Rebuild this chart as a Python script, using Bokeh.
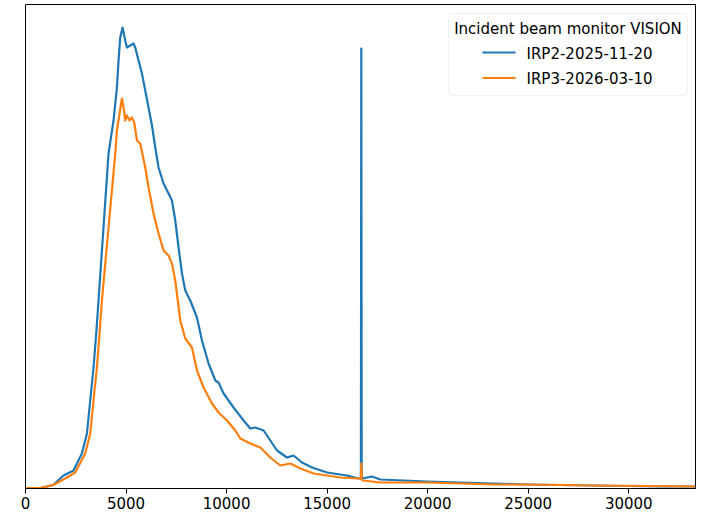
from bokeh.plotting import figure
from bokeh.models import Range1d, FixedTicker, BoxAnnotation, Label
from bokeh.embed import file_html
from bokeh.resources import INLINE

# ---- data (y in arbitrary monitor units) ----
irp2_x = [0, 731, 1378, 1891, 2388, 2806, 3055, 3219, 3383, 3517, 3632, 4129, 4378,
          4547, 4627, 4711, 4826, 4960, 5045, 5209, 5373, 5458, 5622, 5791, 5955,
          6119, 6289, 6453, 6617, 6866, 7114, 7284, 7448, 7612, 7781, 7945, 8194,
          8527, 8776, 9104, 9438, 9602, 9851, 10348, 10846, 11179, 11428, 11841,
          12010, 12507, 13005, 13333, 13751, 14249, 14995, 15657, 15990, 16567,
          16680, 16700, 16720, 16985, 17234, 17647, 19970, 21627, 23284, 24945,
          28244, 31577, 33318]
irp2_y = [0.003, 0.005, 0.035, 0.13, 0.18, 0.35, 0.55, 0.88, 1.21, 1.55, 1.88, 3.35,
          3.68, 4.01, 4.28, 4.51, 4.61, 4.48, 4.41, 4.43, 4.45, 4.41, 4.28, 4.15,
          3.98, 3.81, 3.63, 3.41, 3.21, 3.05, 2.95, 2.88, 2.68, 2.41, 2.15, 1.98,
          1.88, 1.71, 1.48, 1.25, 1.08, 1.06, 0.95, 0.81, 0.68, 0.60, 0.61, 0.58,
          0.53, 0.38, 0.31, 0.33, 0.26, 0.21, 0.16, 0.14, 0.13, 0.10,
          0.10, 4.40, 0.10, 0.11, 0.12, 0.09, 0.07, 0.06, 0.05, 0.04,
          0.03, 0.02, 0.02]

irp3_x = [0, 731, 1378, 2060, 2473, 2970, 3219, 3383, 3552, 3682, 3801, 4463, 4547,
          4677, 4796, 4876, 4960, 5045, 5174, 5294, 5408, 5542, 5706, 5955, 6119,
          6368, 6617, 6866, 7114, 7284, 7448, 7697, 7945, 8279, 8527, 8856, 9274,
          9602, 10020, 10433, 10682, 11179, 11677, 12174, 12672, 13169, 13667,
          14328, 14995, 15657, 16567, 16680, 16700, 16720, 16801, 17647, 19970,
          23269, 24945, 28244, 33318]
irp3_y = [0.003, 0.005, 0.035, 0.11, 0.16, 0.35, 0.55, 0.88, 1.21, 1.55, 1.88, 3.35,
          3.58, 3.75, 3.90, 3.81, 3.68, 3.73, 3.68, 3.71, 3.66, 3.48, 3.45, 3.21,
          3.01, 2.75, 2.55, 2.38, 2.33, 2.25, 2.08, 1.68, 1.50, 1.41, 1.18, 1.01,
          0.85, 0.76, 0.68, 0.58, 0.50, 0.45, 0.41, 0.31, 0.23, 0.25, 0.20,
          0.15, 0.13, 0.11, 0.10, 0.10, 0.25, 0.09, 0.08, 0.06, 0.06,
          0.04, 0.04, 0.03, 0.02]

series_names = ["IRP2-2025-11-20", "IRP3-2026-03-10"]
legend_title = "Incident beam monitor VISION"
x_ticks = [0, 5000, 10000, 15000, 20000, 25000, 30000]
x_tick_labels = ["0", "5000", "10000", "15000", "20000", "25000", "30000"]

BLUE = "#1f77b4"
ORANGE = "#ff7f0e"
FONT = "DejaVu Sans"

# ---- layout ----
W, H = 706, 516
FL, FR, FT, FB = 25, 695, 4, 488          # frame edges in pixels
X0, X1 = 0, 33320
Y0, Y1 = 0, 4.84

p = figure(width=W, height=H, output_backend="svg", toolbar_location=None,
           x_range=Range1d(X0, X1), y_range=Range1d(Y0, Y1),
           min_border_left=FL, min_border_right=W - FR, min_border_top=FT,
           min_border_bottom=H - FB)
p.frame_width = FR - FL
p.frame_height = FB - FT

p.outline_line_color = "black"
p.outline_line_width = 1
p.background_fill_color = "white"
p.border_fill_color = "white"
p.xgrid.visible = False
p.ygrid.visible = False
p.yaxis.visible = False

ax = p.xaxis[0]
ax.ticker = FixedTicker(ticks=x_ticks)
ax.major_label_overrides = {t: l for t, l in zip(x_ticks, x_tick_labels)}
ax.major_tick_out = 5
ax.major_tick_in = 0
ax.minor_tick_out = 0
ax.minor_tick_in = 0
ax.axis_line_color = "black"
ax.major_tick_line_color = "black"
ax.major_label_text_font = FONT
ax.major_label_text_font_size = "15px"
ax.major_label_text_color = "black"
ax.major_label_standoff = 3

p.line(irp2_x, irp2_y, line_color=BLUE, line_width=2.2, line_join="round")
p.line(irp3_x, irp3_y, line_color=ORANGE, line_width=2.2, line_join="round")

# ---- legend (drawn by hand to centre title and entries like the reference) ----
def sx(px):
    return X0 + (px - FL) / (FR - FL) * (X1 - X0)

def sy(py):
    return Y0 + (FB - py) / (FB - FT) * (Y1 - Y0)

p.add_layout(BoxAnnotation(left=sx(448), right=sx(687), top=sy(13), bottom=sy(95),
                           fill_color="white", fill_alpha=0.8,
                           line_color="#cccccc", line_width=1, border_radius=4,
                           level="underlay"))
p.add_layout(Label(x=sx(567.5), y=sy(28.5), text=legend_title, text_align="center",
                   text_baseline="middle", text_font=FONT, text_font_size="15px",
                   text_color="black"))
for name, col, row in zip(series_names, [BLUE, ORANGE], [53, 78.5]):
    r = p.line([sx(482), sx(515)], [sy(row - 1), sy(row - 1)], line_color=col,
               line_width=2.2)
    r.level = "overlay"
    p.add_layout(Label(x=sx(526), y=sy(row), text=name, text_align="left",
                       text_baseline="middle", text_font=FONT, text_font_size="15px",
                       text_color="black"))

open("out.html", "w").write(file_html(p, INLINE))
